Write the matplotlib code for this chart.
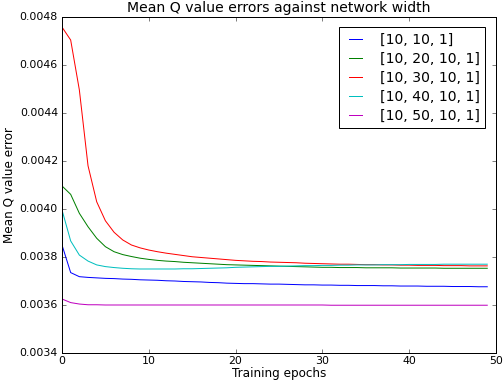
import matplotlib
matplotlib.use("Agg")
import matplotlib.pyplot as plt
import numpy as np

plt.style.use('classic')

# mean Q value error per training epoch
epochs = list(range(50))
labels = ['[10, 10, 1]', '[10, 20, 10, 1]', '[10, 30, 10, 1]', '[10, 40, 10, 1]', '[10, 50, 10, 1]']

err_10_10_1 = [
    0.003850, 0.003735, 0.003718, 0.003715, 0.003713, 0.003711, 0.003710, 0.003708, 0.003707, 0.003705,
    0.003704, 0.003703, 0.003701, 0.003700, 0.003698, 0.003697, 0.003696, 0.003694, 0.003693, 0.003691,
    0.003690, 0.003689, 0.003689, 0.003688, 0.003687, 0.003687, 0.003686, 0.003685, 0.003684, 0.003684,
    0.003683, 0.003683, 0.003682, 0.003682, 0.003681, 0.003681, 0.003681, 0.003680, 0.003680, 0.003679,
    0.003679, 0.003679, 0.003678, 0.003678, 0.003678, 0.003677, 0.003677, 0.003677, 0.003676, 0.003676]
err_10_20_10_1 = [
    0.004096, 0.004061, 0.003982, 0.003926, 0.003878, 0.003843, 0.003822, 0.003810, 0.003802, 0.003795,
    0.003790, 0.003786, 0.003783, 0.003781, 0.003778, 0.003776, 0.003774, 0.003772, 0.003770, 0.003768,
    0.003767, 0.003766, 0.003765, 0.003764, 0.003763, 0.003762, 0.003761, 0.003760, 0.003759, 0.003758,
    0.003757, 0.003757, 0.003756, 0.003756, 0.003756, 0.003755, 0.003755, 0.003755, 0.003755, 0.003754,
    0.003754, 0.003754, 0.003754, 0.003754, 0.003753, 0.003753, 0.003753, 0.003753, 0.003753, 0.003753]
err_10_30_10_1 = [
    0.004758, 0.004704, 0.004496, 0.004180, 0.004030, 0.003951, 0.003903, 0.003871, 0.003850, 0.003838,
    0.003829, 0.003822, 0.003816, 0.003811, 0.003806, 0.003801, 0.003798, 0.003795, 0.003792, 0.003789,
    0.003786, 0.003784, 0.003782, 0.003781, 0.003779, 0.003778, 0.003777, 0.003776, 0.003774, 0.003773,
    0.003772, 0.003771, 0.003770, 0.003770, 0.003769, 0.003768, 0.003768, 0.003767, 0.003767, 0.003766,
    0.003766, 0.003765, 0.003765, 0.003765, 0.003764, 0.003764, 0.003764, 0.003763, 0.003763, 0.003763]
err_10_40_10_1 = [
    0.003996, 0.003867, 0.003808, 0.003783, 0.003767, 0.003760, 0.003756, 0.003753, 0.003751, 0.003750,
    0.003750, 0.003750, 0.003750, 0.003750, 0.003751, 0.003751, 0.003752, 0.003753, 0.003754, 0.003755,
    0.003757, 0.003758, 0.003759, 0.003760, 0.003761, 0.003761, 0.003762, 0.003763, 0.003764, 0.003764,
    0.003765, 0.003765, 0.003766, 0.003766, 0.003767, 0.003767, 0.003767, 0.003768, 0.003768, 0.003768,
    0.003769, 0.003769, 0.003769, 0.003769, 0.003770, 0.003770, 0.003770, 0.003770, 0.003770, 0.003770]
err_10_50_10_1 = [
    0.003625, 0.003610, 0.003604, 0.003601, 0.003601, 0.003600, 0.003600, 0.003600, 0.003600, 0.003600,
    0.003600, 0.003600, 0.003600, 0.003600, 0.003600, 0.003600, 0.003600, 0.003600, 0.003600, 0.003600,
    0.003600, 0.003600, 0.003600, 0.003600, 0.003600, 0.003600, 0.003600, 0.003600, 0.003600, 0.003600,
    0.003600, 0.003599, 0.003599, 0.003599, 0.003599, 0.003599, 0.003599, 0.003599, 0.003599, 0.003599,
    0.003599, 0.003599, 0.003599, 0.003599, 0.003599, 0.003599, 0.003599, 0.003599, 0.003599, 0.003599]

series = [err_10_10_1, err_10_20_10_1, err_10_30_10_1, err_10_40_10_1, err_10_50_10_1]
colors = ['b', 'g', 'r', 'c', 'm']

fig = plt.figure(figsize=(7, 386 / 72), dpi=72)
ax = fig.add_axes([0.123, 0.0855, 0.861, 0.8705])
for vals, c, lab in zip(series, colors, labels):
    ax.plot(epochs, vals, color=c, label=lab)

ax.set_xlim(0, 50)
ax.set_ylim(0.0034, 0.0048)
ax.set_yticks(np.arange(0.0034, 0.00481, 0.0002))
ax.tick_params(labelsize=11)
ax.tick_params(axis='x', pad=3)
ax.set_title("Mean Q value errors against network width", fontsize=14)
ax.set_xlabel("Training epochs", fontsize=12, labelpad=1)
ax.set_ylabel("Mean Q value error", fontsize=12, labelpad=4)
ax.legend(loc='upper right', fontsize=14, handlelength=1.5, handletextpad=1.0,
          borderaxespad=0.75, labelspacing=0.35)

fig.savefig("out.png", dpi=72)
